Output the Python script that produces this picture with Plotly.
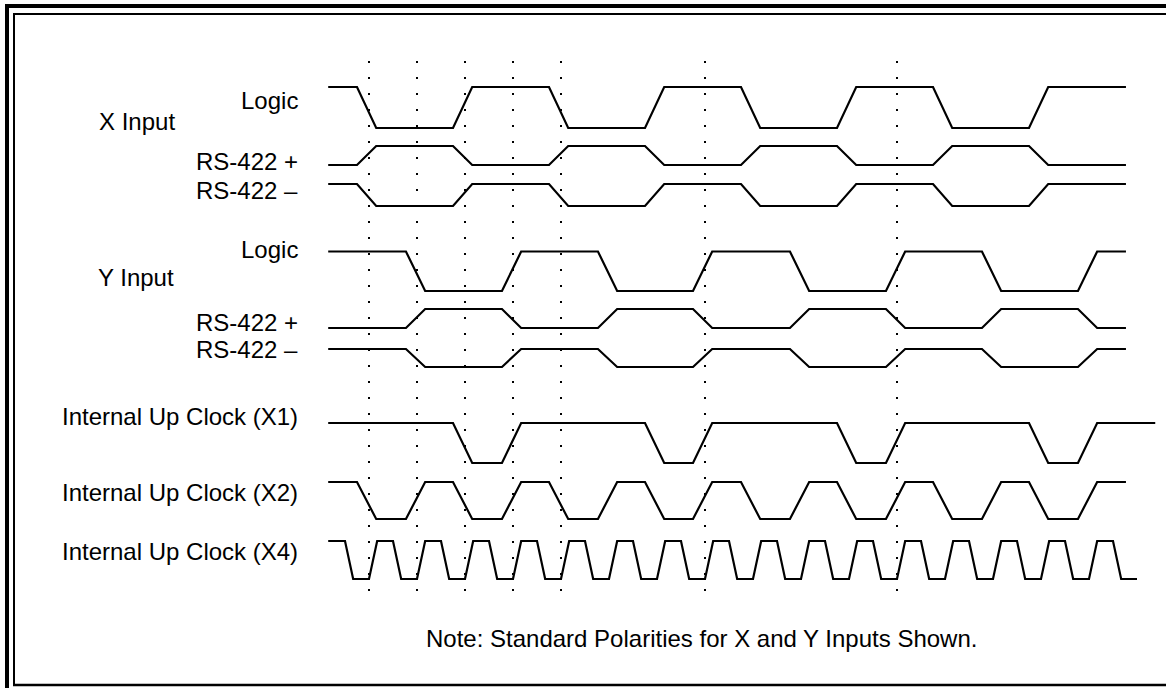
import plotly.graph_objects as go

W, H = 1166, 688

# ---------------- data (time unit = one dotted-line spacing, 1/4 encoder cycle) ----
t_begin = 0.15          # all traces start here
t_end = 16.77           # end of inputs / X2 traces
t_end_x1 = 17.38        # X1 clock runs a little longer
t_end_x4 = 17.0         # X4 clock ends low

# edge start times
x_input_edges = [0.75, 2.75, 4.75, 6.75, 8.75, 10.75, 12.75, 14.75]
y_input_edges = [1.77, 3.77, 5.77, 7.75, 9.77, 11.77, 13.77, 15.77]
x1_clock_edges = [2.75, 3.77, 6.75, 7.75, 10.75, 11.77, 14.75, 15.77]
x2_clock_edges = [0.75, 1.77, 2.75, 3.77, 4.75, 5.77, 6.75, 7.75,
                  8.75, 9.77, 10.75, 11.77, 12.75, 13.77, 14.75, 15.77]
x4_clock_edges = [0.5, 1.0, 1.5, 2.0, 2.5, 3.0, 3.5, 4.0, 4.5, 5.0, 5.5, 6.0,
                  6.5, 7.0, 7.5, 8.0, 8.5, 9.0, 9.5, 10.0, 10.5, 11.0, 11.5,
                  12.0, 12.5, 13.0, 13.5, 14.0, 14.5, 15.0, 15.5, 16.0, 16.5]

# initial logic level of each trace (1 = high)
x_logic_init, x_rs_plus_init, x_rs_minus_init = 1, 0, 1
y_logic_init, y_rs_plus_init, y_rs_minus_init = 1, 0, 1
x1_init, x2_init, x4_init = 1, 1, 1

# transition (slew) durations
slow_edge = 0.4
fast_edge = 0.17

# dotted reference lines
dotted_times = [1, 2, 3, 4, 5, 8, 12]

# labels
row_labels = ["Logic", "RS-422 +", "RS-422 \u2013",
              "Logic", "RS-422 +", "RS-422 \u2013",
              "Internal Up Clock (X1)", "Internal Up Clock (X2)",
              "Internal Up Clock (X4)"]
group_labels = ["X Input", "Y Input"]
note_text = "Note: Standard Polarities for X and Y Inputs Shown."

# ---------------- layout helpers (pixel geometry) ----------------
X0_PX, PX_PER_T = 321.0, 48.0
# (high_px, low_px) for each row
rows = [(87, 128), (146, 165), (184, 206),
        (251.5, 291), (309, 328), (349, 367),
        (423, 463), (482, 519), (541, 579)]
label_y = [100, 161, 190, 249, 322, 349, 416, 492, 551]
label_right_px = 300
group_pos = [(97, 121), (96, 277)]


def wave(init, edges, slew, t1):
    ts, lv = [t_begin], [init]
    cur = init
    for e in edges:
        ts.append(e)
        lv.append(cur)
        cur = 1 - cur
        ts.append(e + slew)
        lv.append(cur)
    ts.append(t1)
    lv.append(cur)
    return ts, lv


signals = [
    (x_logic_init, x_input_edges, slow_edge, t_end),
    (x_rs_plus_init, x_input_edges, slow_edge, t_end),
    (x_rs_minus_init, x_input_edges, slow_edge, t_end),
    (y_logic_init, y_input_edges, slow_edge, t_end),
    (y_rs_plus_init, y_input_edges, slow_edge, t_end),
    (y_rs_minus_init, y_input_edges, slow_edge, t_end),
    (x1_init, x1_clock_edges, slow_edge, t_end_x1),
    (x2_init, x2_clock_edges, slow_edge, t_end),
    (x4_init, x4_clock_edges, fast_edge, t_end_x4),
]

fig = go.Figure()

for t in dotted_times:
    fig.add_trace(go.Scatter(
        x=[t, t], y=[61, 593], mode="lines",
        line=dict(color="black", width=2, dash="2px,14px"),
        hoverinfo="skip"))

for (init, edges, slew, t1), (hi, lo) in zip(signals, rows):
    ts, lv = wave(init, edges, slew, t1)
    ys = [lo - v * (lo - hi) for v in lv]
    fig.add_trace(go.Scatter(
        x=ts, y=ys, mode="lines",
        line=dict(color="black", width=2.2),
        hoverinfo="skip"))

FONT = dict(family="Liberation Sans, Arial, Helvetica, sans-serif",
            size=24, color="black")

annotations = []
for text, y in zip(row_labels, label_y):
    annotations.append(dict(
        text=text, xref="paper", yref="y", x=label_right_px / W, y=y,
        xanchor="right", yanchor="middle", showarrow=False, font=FONT))
for text, (px, y) in zip(group_labels, group_pos):
    annotations.append(dict(
        text=text, xref="paper", yref="y", x=px / W, y=y,
        xanchor="left", yanchor="middle", showarrow=False, font=FONT))
annotations.append(dict(
    text=note_text, xref="paper", yref="y", x=702 / W, y=638,
    xanchor="center", yanchor="middle", showarrow=False, font=FONT))


def px_line(x0, y0, x1, y1, w):
    return dict(type="line", xref="paper", yref="paper",
                x0=x0 / W, x1=x1 / W, y0=1 - y0 / H, y1=1 - y1 / H,
                line=dict(color="black", width=w))


shapes = [
    # outer thick frame (left, top)
    px_line(7, 4, 7, H + 5, 4),
    px_line(5, 6, W + 5, 6, 4),
    # inner thin frame (left, top, bottom)
    px_line(14, 14, 14, 686, 2),
    px_line(13, 14, W + 5, 14, 2),
    px_line(13, 685, W + 5, 685, 2.5),
]

fig.update_layout(
    width=W, height=H,
    margin=dict(l=0, r=0, t=0, b=0, pad=0),
    paper_bgcolor="white", plot_bgcolor="white",
    showlegend=False,
    xaxis=dict(range=[(0 - X0_PX) / PX_PER_T, (W - X0_PX) / PX_PER_T],
               visible=False, fixedrange=True),
    yaxis=dict(range=[H, 0], visible=False, fixedrange=True),
    annotations=annotations,
    shapes=shapes,
)

fig.write_html("out.html",
               config={"displayModeBar": False, "staticPlot": True},
               post_script="document.body.style.margin='0';"
                           "document.body.style.overflow='hidden';")
